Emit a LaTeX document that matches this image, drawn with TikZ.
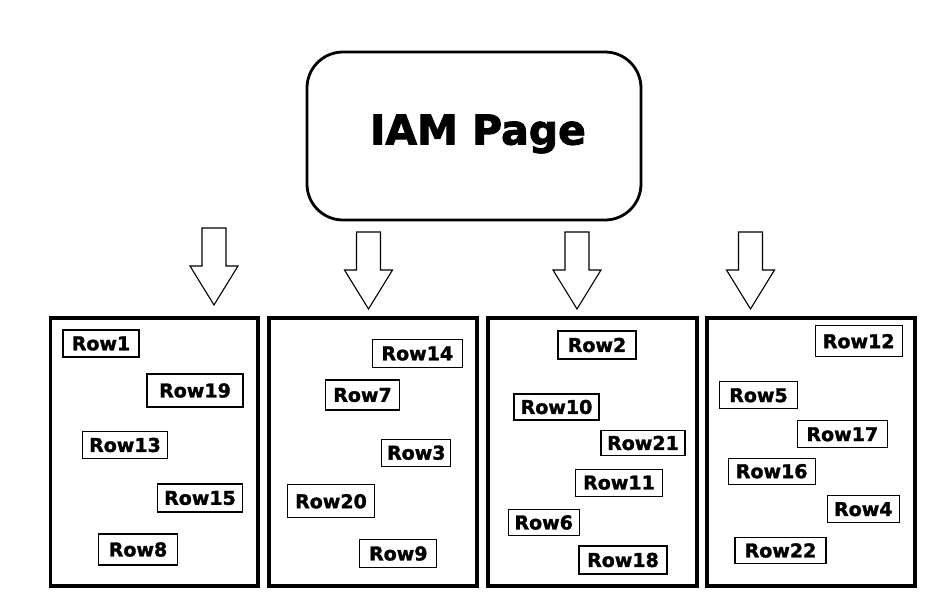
\documentclass[tikz,border=0pt]{standalone}
\usepackage{fontspec}
\setmainfont{DejaVu Sans}
\newfontfamily\heavyfont[FakeBold=2.2]{DejaVu Sans Bold}
\newfontfamily\heavyrow[FakeBold=1.6]{DejaVu Sans Bold}
\usetikzlibrary{calc}
\begin{document}
\begin{tikzpicture}[x=1pt,y=-1pt,
  panel/.style={draw,line width=3.6pt},
  rowbox/.style={draw,line width=1.2pt,inner sep=0pt,font=\heavyrow\fontsize{19}{20}\selectfont},
  title/.style={draw,line width=2.8pt,rounded corners=36pt,inner sep=0pt},
  titletext/.style={font=\heavyfont\fontsize{41}{46}\selectfont,inner sep=0pt},
  blockarr/.style={draw,line width=1.1pt,line join=miter,fill=white}]
\useasboundingbox (0,0) rectangle (930,600);
% title
\node[title,minimum width=334pt,minimum height=168pt] (iam) at (474,136) {};
\node[titletext] (iamtext) at (478,134) {IAM Page};
% block arrows
\newcommand{\blockarrow}[3]{%
  \coordinate (#1) at (#2,#3);
  \draw[blockarr] ($(#1)+(-12,0)$) -- ($(#1)+(12,0)$) -- ($(#1)+(12,38)$) -- ($(#1)+(24,38)$)
     -- ($(#1)+(0,77)$) -- ($(#1)+(-24,38)$) -- ($(#1)+(-12,38)$) -- cycle;}
\blockarrow{a1}{214}{228}
\blockarrow{a2}{368.5}{232}
\blockarrow{a3}{577}{232}
\blockarrow{a4}{750.5}{232}
% panels
\draw[panel] (50.5,318) rectangle (258,586);
\draw[panel] (269,318) rectangle (477,586);
\draw[panel] (488,318) rectangle (697,586);
\draw[panel] (707,318) rectangle (915,586);
% panel 1
\node[rowbox,minimum width=76pt,minimum height=27pt] (r1) at (101,343.5) {Row1};
\node[rowbox,minimum width=96pt,minimum height=33pt] (r19) at (195,390.5) {Row19};
\node[rowbox,minimum width=85pt,minimum height=27pt] (r13) at (125,445) {Row13};
\node[rowbox,minimum width=85pt,minimum height=28pt] (r15) at (200,498) {Row15};
\node[rowbox,minimum width=79pt,minimum height=31pt] (r8) at (138,549.5) {Row8};
% panel 2
\node[rowbox,minimum width=90pt,minimum height=28pt] (r14) at (417.3,353.5) {Row14};
\node[rowbox,minimum width=74pt,minimum height=30pt] (r7) at (362.5,395) {Row7};
\node[rowbox,minimum width=69pt,minimum height=27pt] (r3) at (416.3,452.7) {Row3};
\node[rowbox,minimum width=87pt,minimum height=33pt] (r20) at (331,501.3) {Row20};
\node[rowbox,minimum width=77pt,minimum height=28pt] (r9) at (398.3,553.5) {Row9};
% panel 3
\node[rowbox,minimum width=78pt,minimum height=28pt] (r2) at (597,345) {Row2};
\node[rowbox,minimum width=85pt,minimum height=26pt] (r10) at (556.5,407) {Row10};
\node[rowbox,minimum width=84pt,minimum height=25pt] (r21) at (643,443) {Row21};
\node[rowbox,minimum width=87pt,minimum height=27pt] (r11) at (619,482.7) {Row11};
\node[rowbox,minimum width=71pt,minimum height=26pt] (r6) at (543.7,522.5) {Row6};
\node[rowbox,minimum width=88pt,minimum height=28pt] (r18) at (623,560) {Row18};
% panel 4
\node[rowbox,minimum width=87pt,minimum height=31pt] (r12) at (858.7,341.2) {Row12};
\node[rowbox,minimum width=78pt,minimum height=27pt] (r5) at (758.5,395.3) {Row5};
\node[rowbox,minimum width=90pt,minimum height=27pt] (r17) at (842.3,434.3) {Row17};
\node[rowbox,minimum width=87pt,minimum height=26pt] (r16) at (771.7,471.2) {Row16};
\node[rowbox,minimum width=72pt,minimum height=27pt] (r4) at (863.3,509.2) {Row4};
\node[rowbox,minimum width=91pt,minimum height=26pt] (r22) at (780.5,550.5) {Row22};
\end{tikzpicture}
\end{document}
